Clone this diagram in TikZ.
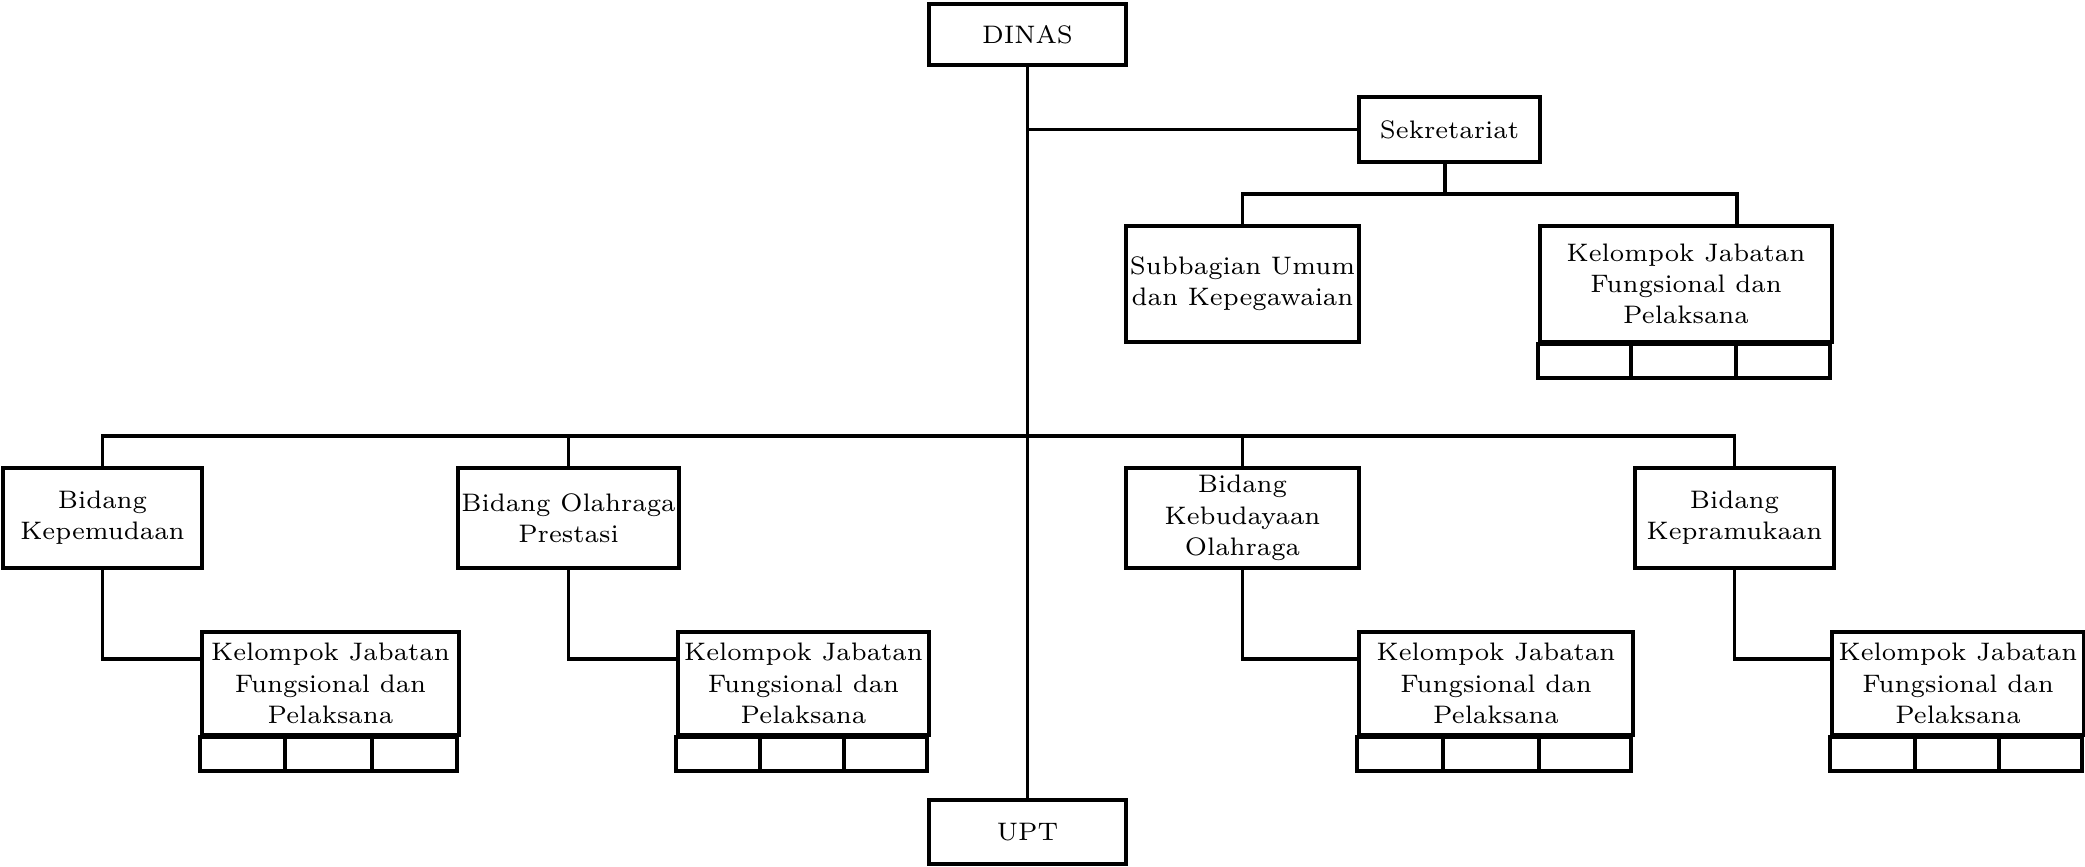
\documentclass[tikz,border=0pt]{standalone}
\usetikzlibrary{positioning}
\tikzset{
  box/.style={draw, line width=1.1pt, align=center, inner sep=1pt,
    font=\fontsize{7.2}{8.9}\selectfont},
  conn/.style={line width=1.0pt},
}
% sub-row under a Kelompok box: #1 node name, #2 width(px), #3 first divider offset, #4 second divider offset
\newcommand\kjrow[4]{%
  \draw[line width=1.1pt] (#1.south west) rectangle ++(#2,34);
  \draw[line width=1.1pt] ([xshift=#3*0.01cm]#1.south west) -- ++(0,34);
  \draw[line width=1.1pt] ([xshift=#4*0.01cm]#1.south west) -- ++(0,34);
}
\begin{document}
\begin{tikzpicture}[x=0.01cm,y=-0.01cm]
\useasboundingbox (0,0) rectangle (2085,866);

% top
\node[box, minimum width=1.97cm, minimum height=0.61cm] (dinas) at (1027.5,34.5) {DINAS};
\node[box, minimum width=1.97cm, minimum height=0.64cm] (upt) at (1027.5,832) {UPT};
\node[box, minimum width=1.81cm, minimum height=0.65cm] (sek) at (1449.5,129.5) {Sekretariat};
\node[box, minimum width=2.33cm, minimum height=1.16cm] (sub) at (1242.5,284) {Subbagian Umum\\dan Kepegawaian};
\node[box, minimum width=2.92cm, minimum height=1.16cm] (kjt) at (1686,284) {Kelompok Jabatan\\Fungsional dan\\Pelaksana};
\kjrow{kjt}{292}{93}{198}

% bidang
\node[box, minimum width=1.99cm, minimum height=1.00cm] (bk) at (102.5,518) {Bidang\\Kepemudaan};
\node[box, minimum width=2.19cm, minimum height=1.00cm] (bo) at (568.5,518) {Bidang Olahraga\\Prestasi};
\node[box, minimum width=2.33cm, minimum height=1.00cm] (bkeb) at (1242.5,518) {Bidang\\Kebudayaan\\Olahraga};
\node[box, minimum width=1.99cm, minimum height=1.00cm] (bkep) at (1734.5,518) {Bidang\\Kepramukaan};

% kelompok rows
\node[box, minimum width=2.57cm, minimum height=1.03cm] (kj1) at (330.5,683.5) {Kelompok Jabatan\\Fungsional dan\\Pelaksana};
\kjrow{kj1}{257}{85}{172}
\node[box, minimum width=2.51cm, minimum height=1.03cm] (kj2) at (803.5,683.5) {Kelompok Jabatan\\Fungsional dan\\Pelaksana};
\kjrow{kj2}{251}{84}{168}
\node[box, minimum width=2.74cm, minimum height=1.03cm] (kj3) at (1496,683.5) {Kelompok Jabatan\\Fungsional dan\\Pelaksana};
\kjrow{kj3}{274}{86}{182}
\node[box, minimum width=2.52cm, minimum height=1.03cm] (kj4) at (1958,683.5) {Kelompok Jabatan\\Fungsional dan\\Pelaksana};
\kjrow{kj4}{252}{85}{169}

% connectors
\draw[conn] (dinas.south) -- (upt.north);
\coordinate (sekj) at (dinas.south |- sek.west);
\draw[conn] (sekj) -- (sek.west);
\coordinate (sekbar) at (1445,194);
\draw[conn] (sek.south -| sekbar) -- (sekbar);
\draw[conn] (sub.north) |- (sekbar) -| ([xshift=0.51cm]kjt.north);

\coordinate (mainbar) at (1028,436);
\draw[conn] (bk.north) |- (mainbar) -| (bkep.north);
\draw[conn] (bo.north) -- (bo.north |- mainbar);
\draw[conn] (bkeb.north) -- (bkeb.north |- mainbar);

\draw[conn] (bk.south) |- ([yshift=-0.29cm]kj1.north west);
\draw[conn] (bo.south) |- ([yshift=-0.29cm]kj2.north west);
\draw[conn] (bkeb.south) |- ([yshift=-0.29cm]kj3.north west);
\draw[conn] (bkep.south) |- ([yshift=-0.29cm]kj4.north west);
\end{tikzpicture}
\end{document}
